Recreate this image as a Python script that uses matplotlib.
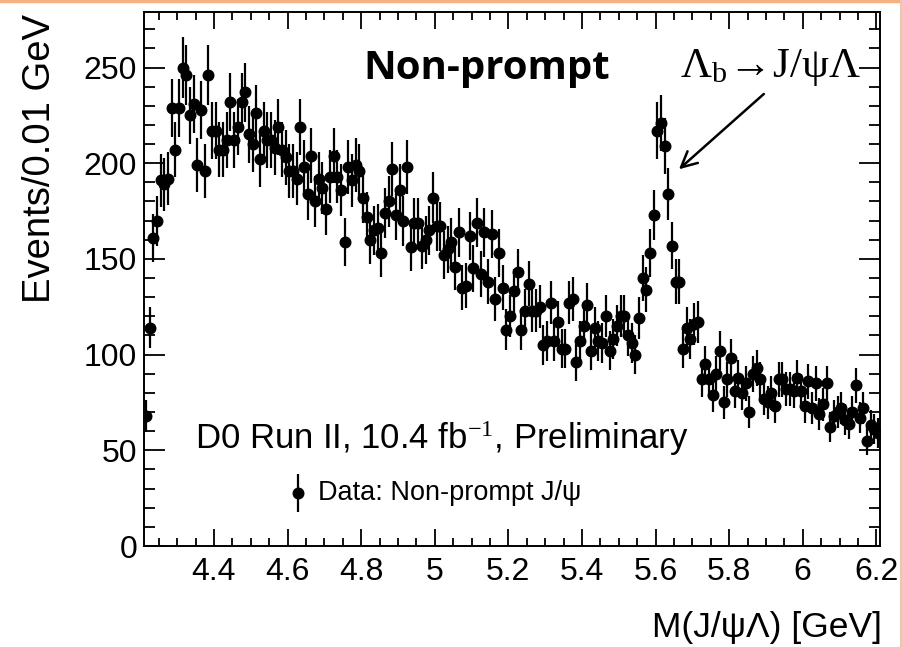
import matplotlib
matplotlib.use("Agg")
import matplotlib.pyplot as plt
import numpy as np
from matplotlib.lines import Line2D
from matplotlib.ticker import MultipleLocator, FormatStrFormatter

# binning of the J/psi Lambda mass spectrum
m_lo = 4.21
bin_width = 0.01

# events per 0.01 GeV bin, non-prompt sample
counts = [
    68, 114, 161, 170, 191, 189, 192, 229, 207, 229,
    250, 246, 225, 231, 199, 228, 196, 246, 217, 217,
    207, 207, 212, 232, 212, 219, 232, 237, 215, 210,
    226, 202, 217, 212, 212, 208, 219, 207, 203, 196,
    196, 192, 219, 198, 184, 204, 180, 192, 187, 176,
    193, 204, 193, 186, 159, 198, 191, 199, 196, 182,
    172, 160, 165, 166, 153, 174, 180, 197, 173, 186,
    170, 198, 156, 169, 169, 157, 160, 165, 182, 167,
    167, 152, 155, 159, 146, 164, 135, 136, 162, 145,
    169, 142, 164, 138, 163, 129, 153, 135, 113, 120,
    133, 143, 113, 123, 137, 123, 123, 125, 105, 107,
    127, 107, 117, 103, 103, 127, 129, 96, 107, 115,
    126, 102, 114, 107, 106, 120, 102, 108, 115, 120,
    120, 110, 106, 100, 119, 140, 134, 153, 173, 217,
    221, 209, 184, 157, 138, 138, 103, 114, 108, 116,
    117, 87, 95, 87, 79, 90, 102, 75, 87, 98,
    81, 88, 80, 85, 70, 90, 93, 87, 77, 75,
    80, 73, 87, 87, 82, 82, 81, 88, 81, 73,
    86, 72, 85, 69, 74, 85, 62, 68, 70, 72,
    66, 64, 70, 84, 67, 72, 55, 63, 61, 59,
]

x_ticks = [4.4, 4.6, 4.8, 5.0, 5.2, 5.4, 5.6, 5.8, 6.0, 6.2]
y_ticks = [0, 50, 100, 150, 200, 250]

plt.rcParams['font.family'] = ['Liberation Sans', 'DejaVu Sans']
plt.rcParams['mathtext.fontset'] = 'custom'
plt.rcParams['mathtext.rm'] = 'Liberation Serif'
plt.rcParams['mathtext.it'] = 'Liberation Serif'
plt.rcParams['mathtext.bf'] = 'Liberation Serif:bold'

counts = np.array(counts, dtype=float)
centers = m_lo + bin_width * (np.arange(len(counts)) + 0.5)
errors = np.sqrt(counts)

fig = plt.figure(figsize=(9.02, 6.47), dpi=100)
ax = fig.add_axes([144 / 902, 101 / 647, 736 / 902, 534 / 647])

ax.errorbar(centers, counts, yerr=errors, fmt='o', color='black',
            ms=7.6, elinewidth=1.6, capsize=0, zorder=3)

ax.set_xlim(m_lo, m_lo + bin_width * len(counts))
ax.set_ylim(0, 279)

ax.set_xticks(x_ticks)
ax.set_yticks(y_ticks)
ax.xaxis.set_major_formatter(FormatStrFormatter('%g'))
ax.xaxis.set_minor_locator(MultipleLocator(0.05))
ax.yaxis.set_minor_locator(MultipleLocator(10))

ax.tick_params(axis='both', which='both', direction='in', top=True, right=True,
               width=1.3, labelsize=23)
ax.tick_params(axis='x', which='major', length=12, pad=8)
ax.tick_params(axis='x', which='minor', length=6)
ax.tick_params(axis='y', which='major', length=15, pad=5)
ax.tick_params(axis='y', which='minor', length=8)
for side in ax.spines.values():
    side.set_linewidth(1.4)

fig.text(40 / 902, 1 - 14 / 647, 'Events/0.01 GeV', rotation=90,
         ha='center', va='top', fontsize=27.5)
fig.text(882 / 902, 1 - 628 / 647, 'M(J/ψΛ) [GeV]',
         ha='right', va='center', fontsize=25.5)

ax.text(0.466, 0.895, 'Non-prompt', transform=ax.transAxes,
        ha='center', va='center', fontsize=29, fontweight='bold',
        family=['Open Sans', 'DejaVu Sans'])
ax.text(0.728, 0.878, r'$\Lambda_{\rm b}\!\rightarrow\!{\rm J}/\psi\Lambda$',
        transform=ax.transAxes, ha='left', va='baseline', fontsize=31)
ax.annotate('', xy=(0.724, 0.702), xytext=(0.845, 0.850),
            xycoords='axes fraction', textcoords='axes fraction',
            arrowprops=dict(arrowstyle='->', lw=1.8, color='black',
                            mutation_scale=28))

ax.text(0.069, 0.182, 'D0 Run II, 10.4 fb$^{-1}$, Preliminary',
        transform=ax.transAxes, ha='left', va='baseline', fontsize=25)

# legend entry drawn by hand: marker with error bar and label
ax.errorbar([0.209], [0.099], yerr=[0.036], fmt='o', color='black', ms=7.6,
            elinewidth=1.6, capsize=0, transform=ax.transAxes, clip_on=False)
ax.text(0.236, 0.099, 'Data: Non-prompt J/ψ', transform=ax.transAxes,
        ha='left', va='center', fontsize=19.5)

# slide frame lines along the top and right edge
fig.add_artist(Line2D([0, 1], [0.998, 0.998], transform=fig.transFigure,
                      color='#f4b183', lw=2.5))
fig.add_artist(Line2D([0.9985, 0.9985], [0, 1], transform=fig.transFigure,
                      color='#e8c9a8', lw=1.5))

fig.savefig('out.png', dpi=100)
